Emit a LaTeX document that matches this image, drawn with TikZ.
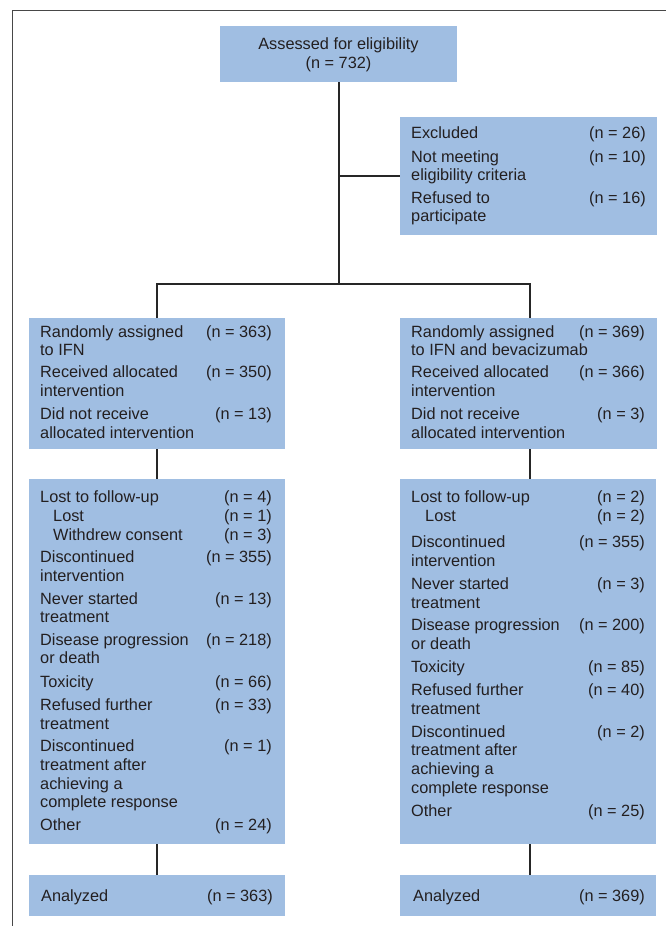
\documentclass[tikz,border=0pt]{standalone}
\usepackage{fontspec}
\setmainfont{Liberation Sans}
\definecolor{boxblue}{HTML}{A0BEE2}
\definecolor{txtc}{HTML}{231F20}
\newcommand\Lt[4]{\node[txt] (#1) at (#2,#3) {#4};}
\newcommand\Nr[4]{\node[num] (#1) at (#2,#3) {#4};}
\begin{document}
\begin{tikzpicture}[x=1pt,y=-1pt,
  box/.style={fill=boxblue, draw=none, inner sep=0pt, outer sep=0pt, anchor=north west},
  txt/.style={inner sep=0pt, anchor=base west, text=txtc, font=\fontsize{16.3}{18}\selectfont},
  num/.style={txt, anchor=base east},
  conn/.style={line width=2pt, draw=black!85},
  frameline/.style={line width=1.5pt, draw=black!72}]
\useasboundingbox (0,0) rectangle (666,926);
% frame
\draw[frameline] (12.5,926) -- (12.5,10.7) -- (666,10.7);
% boxes
\node[box, minimum width=237pt, minimum height=56pt] (top) at (220,26) {};
\node[box, minimum width=257pt, minimum height=118pt] (ex) at (400,117) {};
\node[box, minimum width=256pt, minimum height=131pt] (la) at (29,318) {};
\node[box, minimum width=257pt, minimum height=131pt] (ra) at (400,318) {};
\node[box, minimum width=256pt, minimum height=365pt] (lb) at (29,479) {};
\node[box, minimum width=256pt, minimum height=365pt] (rb) at (400,479) {};
\node[box, minimum width=256pt, minimum height=41pt] (lc) at (29,875) {};
\node[box, minimum width=256pt, minimum height=41pt] (rc) at (400,875) {};
% connectors
\coordinate (split) at (338.5,284);
\coordinate (rcol) at (530,284);
\draw[conn] (top.south) -- (split);
\draw[conn] (la.north) |- (split) -- (rcol) -- (rcol |- ra.north);
\draw[conn] (top.south |- ex.west) -- (ex.west);
\draw[conn] (la.south) -- (lb.north);
\draw[conn] (rcol |- ra.south) -- (rcol |- rb.north);
\draw[conn] (lb.south) -- (lc.north);
\draw[conn] (rcol |- rb.south) -- (rcol |- rc.north);
% top text
\node[txt, anchor=base] (t1) at (338.5,49) {Assessed for eligibility};
\node[txt, anchor=base] (t2) at (338.5,68) {(n = 732)};
% excluded
\Lt{ex1}{411}{138}{Excluded}\Nr{exn1}{646}{138}{(n = 26)}
\Lt{ex2}{411}{162}{Not meeting}\Nr{exn2}{646}{162}{(n = 10)}
\Lt{ex3}{411}{180}{eligibility criteria}
\Lt{ex4}{411}{203}{Refused to}\Nr{exn4}{646}{203}{(n = 16)}
\Lt{ex5}{411}{221}{participate}
% left box 1
\Lt{la1}{40}{337}{Randomly assigned}\Nr{lan1}{272}{337}{(n = 363)}
\Lt{la2}{40}{355}{to IFN}
\Lt{la3}{40}{377}{Received allocated}\Nr{lan3}{272}{377}{(n = 350)}
\Lt{la4}{40}{396}{intervention}
\Lt{la5}{40}{419}{Did not receive}\Nr{lan5}{272}{419}{(n = 13)}
\Lt{la6}{40}{438}{allocated intervention}
% right box 1
\Lt{ra1}{411}{337}{Randomly assigned}\Nr{ran1}{645}{337}{(n = 369)}
\Lt{ra2}{411}{355}{to IFN and bevacizumab}
\Lt{ra3}{411}{377}{Received allocated}\Nr{ran3}{645}{377}{(n = 366)}
\Lt{ra4}{411}{396}{intervention}
\Lt{ra5}{411}{419}{Did not receive}\Nr{ran5}{645}{419}{(n = 3)}
\Lt{ra6}{411}{438}{allocated intervention}
% left box 2
\Lt{lb1}{40}{502}{Lost to follow-up}\Nr{lbn1}{272}{502}{(n = 4)}
\Lt{lb2}{53}{521}{Lost}\Nr{lbn2}{272}{521}{(n = 1)}
\Lt{lb3}{53}{540}{Withdrew consent}\Nr{lbn3}{272}{540}{(n = 3)}
\Lt{lb4}{40}{562}{Discontinued}\Nr{lbn4}{272}{562}{(n = 355)}
\Lt{lb5}{40}{581}{intervention}
\Lt{lb6}{40}{604}{Never started}\Nr{lbn6}{272}{604}{(n = 13)}
\Lt{lb7}{40}{622}{treatment}
\Lt{lb8}{40}{645}{Disease progression}\Nr{lbn8}{272}{645}{(n = 218)}
\Lt{lb9}{40}{663}{or death}
\Lt{lb10}{40}{687}{Toxicity}\Nr{lbn10}{272}{687}{(n = 66)}
\Lt{lb11}{40}{710}{Refused further}\Nr{lbn11}{272}{710}{(n = 33)}
\Lt{lb12}{40}{729}{treatment}
\Lt{lb13}{40}{751}{Discontinued}\Nr{lbn13}{272}{751}{(n = 1)}
\Lt{lb14}{40}{770}{treatment after}
\Lt{lb15}{40}{789}{achieving a}
\Lt{lb16}{40}{807}{complete response}
\Lt{lb17}{40}{830}{Other}\Nr{lbn17}{272}{830}{(n = 24)}
% right box 2
\Lt{rb1}{411}{502}{Lost to follow-up}\Nr{rbn1}{645}{502}{(n = 2)}
\Lt{rb2}{425}{521}{Lost}\Nr{rbn2}{645}{521}{(n = 2)}
\Lt{rb3}{411}{547}{Discontinued}\Nr{rbn3}{645}{547}{(n = 355)}
\Lt{rb4}{411}{566}{intervention}
\Lt{rb5}{411}{589}{Never started}\Nr{rbn5}{645}{589}{(n = 3)}
\Lt{rb6}{411}{608}{treatment}
\Lt{rb7}{411}{630}{Disease progression}\Nr{rbn7}{645}{630}{(n = 200)}
\Lt{rb8}{411}{649}{or death}
\Lt{rb9}{411}{672}{Toxicity}\Nr{rbn9}{645}{672}{(n = 85)}
\Lt{rb10}{411}{695}{Refused further}\Nr{rbn10}{645}{695}{(n = 40)}
\Lt{rb11}{411}{714}{treatment}
\Lt{rb12}{411}{737}{Discontinued}\Nr{rbn12}{645}{737}{(n = 2)}
\Lt{rb13}{411}{755}{treatment after}
\Lt{rb14}{411}{774}{achieving a}
\Lt{rb15}{411}{793}{complete response}
\Lt{rb16}{411}{816}{Other}\Nr{rbn16}{645}{816}{(n = 25)}
% analyzed
\Lt{lc1}{41}{901}{Analyzed}\Nr{lcn1}{273}{901}{(n = 363)}
\Lt{rc1}{413}{901}{Analyzed}\Nr{rcn1}{645}{901}{(n = 369)}
\end{tikzpicture}
\end{document}
